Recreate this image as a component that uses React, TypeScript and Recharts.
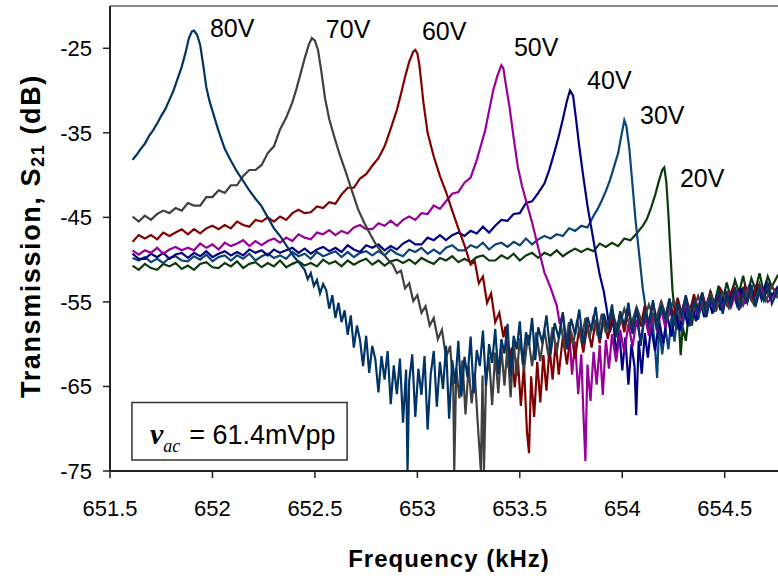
import {
  LineChart,
  Line,
  XAxis,
  YAxis,
  ReferenceDot,
  ReferenceArea,
  ReferenceLine,
  Label,
} from "recharts";

// x ticks (kHz) and y ticks (dB)
const FREQ_TICKS = [651.5, 652, 652.5, 653, 653.5, 654, 654.5];
const DB_TICKS = [-75, -65, -55, -45, -35, -25];

// [frequency kHz, S21 dB]
const s20V: [number, number][] = [
  [651.61, -50.7], [651.64, -51.2], [651.67, -50.5], [651.7, -51.0], [651.73, -51.2], [651.76, -50.5],
  [651.79, -50.8], [651.82, -50.4], [651.85, -51.1], [651.88, -50.7], [651.91, -51.2], [651.94, -50.5],
  [651.97, -50.3], [652.0, -50.9], [652.03, -51.0], [652.06, -50.4], [652.09, -50.8], [652.12, -50.2],
  [652.15, -51.0], [652.18, -50.5], [652.21, -50.3], [652.24, -50.9], [652.27, -50.4], [652.3, -50.8],
  [652.33, -50.1], [652.36, -50.9], [652.39, -50.5], [652.42, -50.2], [652.45, -50.7], [652.48, -50.4],
  [652.51, -50.8], [652.54, -50.0], [652.57, -50.5], [652.6, -50.2], [652.63, -50.8], [652.66, -50.1],
  [652.69, -50.6], [652.72, -50.2], [652.75, -49.9], [652.78, -50.6], [652.81, -50.1], [652.84, -50.7],
  [652.87, -50.2], [652.9, -50.0], [652.93, -50.4], [652.96, -50.0], [652.99, -50.5], [653.02, -49.8],
  [653.05, -50.2], [653.08, -50.5], [653.11, -49.8], [653.14, -50.1], [653.17, -49.6], [653.2, -50.3],
  [653.23, -49.9], [653.26, -50.3], [653.29, -49.7], [653.32, -49.5], [653.35, -50.1], [653.38, -50.1],
  [653.41, -49.5], [653.44, -49.9], [653.47, -49.3], [653.5, -50.1], [653.53, -49.5], [653.56, -49.2],
  [653.59, -49.8], [653.62, -49.2], [653.65, -49.5], [653.68, -48.9], [653.71, -49.6], [653.74, -49.1],
  [653.77, -48.7], [653.8, -49.1], [653.83, -48.7], [653.86, -49.0], [653.89, -48.1], [653.92, -48.5],
  [653.95, -48.0], [653.98, -48.4], [654.01, -47.5], [654.04, -47.7], [654.07, -46.9], [654.1, -46.0],
  [654.12, -45.2], [654.14, -43.9], [654.16, -42.4], [654.18, -40.6], [654.195, -39.4], [654.205, -39.1],
  [654.215, -40.8], [654.225, -44.6], [654.235, -49.2], [654.245, -53.6], [654.255, -55.9], [654.265, -58.3],
  [654.275, -56.7], [654.285, -61.3], [654.295, -58.0], [654.31, -59.6], [654.325, -56.4], [654.34, -57.8],
  [654.355, -55.0], [654.37, -56.9], [654.39, -54.4], [654.41, -56.1], [654.43, -53.8], [654.45, -55.3],
  [654.47, -53.1], [654.49, -54.9], [654.51, -52.7], [654.53, -54.6], [654.55, -52.4], [654.57, -53.9],
  [654.59, -51.9], [654.61, -54.3], [654.63, -52.2], [654.65, -53.5], [654.67, -51.6], [654.69, -53.8],
  [654.71, -52.0], [654.73, -53.2], [654.76, -51.8],
];

const s30V: [number, number][] = [
  [651.61, -49.8], [651.64, -50.1], [651.67, -49.7], [651.7, -50.3], [651.73, -49.9], [651.76, -50.4],
  [651.79, -49.8], [651.82, -49.6], [651.85, -50.1], [651.88, -50.2], [651.91, -49.6], [651.94, -50.0],
  [651.97, -49.4], [652.0, -50.2], [652.03, -49.7], [652.06, -49.5], [652.09, -50.1], [652.12, -49.5],
  [652.15, -49.9], [652.18, -49.3], [652.21, -50.1], [652.24, -49.6], [652.27, -49.3], [652.3, -49.8],
  [652.33, -49.5], [652.36, -49.9], [652.39, -49.1], [652.42, -49.6], [652.45, -49.3], [652.48, -49.9],
  [652.51, -49.1], [652.54, -49.6], [652.57, -49.3], [652.6, -49.0], [652.63, -49.7], [652.66, -49.1],
  [652.69, -49.7], [652.72, -49.2], [652.75, -49.0], [652.78, -49.5], [652.81, -49.0], [652.84, -49.5],
  [652.87, -48.8], [652.9, -49.3], [652.93, -49.6], [652.96, -48.8], [652.99, -49.1], [653.02, -48.6],
  [653.05, -49.3], [653.08, -48.8], [653.11, -49.3], [653.14, -48.6], [653.17, -48.3], [653.2, -48.9],
  [653.23, -48.9], [653.26, -48.3], [653.29, -48.6], [653.32, -48.0], [653.35, -48.8], [653.38, -48.2],
  [653.41, -48.0], [653.44, -48.5], [653.47, -47.9], [653.5, -48.3], [653.53, -47.5], [653.56, -48.2],
  [653.59, -47.6], [653.62, -47.2], [653.65, -47.5], [653.68, -47.0], [653.71, -47.2], [653.74, -46.3],
  [653.77, -46.6], [653.8, -46.0], [653.83, -46.2], [653.86, -44.8], [653.88, -44.0], [653.9, -43.0],
  [653.92, -41.9], [653.94, -40.6], [653.96, -39.0], [653.98, -37.4], [653.995, -35.4], [654.01, -33.5],
  [654.02, -34.2], [654.035, -37.0], [654.05, -41.2], [654.065, -45.4], [654.08, -48.8], [654.1, -53.4],
  [654.115, -55.9], [654.13, -58.7], [654.145, -56.6], [654.16, -60.4], [654.17, -64.0], [654.18, -57.8],
  [654.195, -61.2], [654.21, -58.0], [654.225, -60.6], [654.24, -56.9], [654.255, -59.7], [654.27, -56.3],
  [654.29, -58.5], [654.31, -55.6], [654.33, -57.9], [654.35, -55.2], [654.37, -57.1], [654.39, -54.7],
  [654.41, -56.8], [654.43, -54.4], [654.45, -56.2], [654.47, -54.0], [654.49, -55.9], [654.51, -53.7],
  [654.53, -55.5], [654.55, -53.5], [654.57, -55.2], [654.59, -53.2], [654.61, -55.0], [654.63, -53.0],
  [654.65, -54.8], [654.67, -52.9], [654.69, -54.6], [654.71, -52.8], [654.73, -54.4], [654.76, -53.1],
];

const s40V: [number, number][] = [
  [651.61, -49.3], [651.64, -49.9], [651.67, -49.9], [651.7, -49.3], [651.73, -49.7], [651.76, -49.2],
  [651.79, -49.9], [651.82, -49.4], [651.85, -49.2], [651.88, -49.8], [651.91, -49.2], [651.94, -49.6],
  [651.97, -49.0], [652.0, -49.7], [652.03, -49.3], [652.06, -49.0], [652.09, -49.5], [652.12, -49.1],
  [652.15, -49.5], [652.18, -48.8], [652.21, -49.2], [652.24, -48.9], [652.27, -49.5], [652.3, -48.8],
  [652.33, -49.2], [652.36, -48.9], [652.39, -48.6], [652.42, -49.2], [652.45, -48.7], [652.48, -49.3],
  [652.51, -48.8], [652.54, -48.5], [652.57, -49.0], [652.6, -48.6], [652.63, -49.1], [652.66, -48.3],
  [652.69, -48.8], [652.72, -49.1], [652.75, -48.3], [652.78, -48.6], [652.81, -48.2], [652.84, -48.9],
  [652.87, -48.4], [652.9, -48.8], [652.93, -48.1], [652.96, -47.7], [652.99, -48.2], [653.02, -48.2],
  [653.05, -47.4], [653.08, -47.7], [653.11, -47.1], [653.14, -47.7], [653.17, -47.1], [653.2, -46.8],
  [653.23, -47.2], [653.26, -46.6], [653.29, -46.9], [653.32, -46.1], [653.35, -46.8], [653.38, -46.0],
  [653.41, -45.3], [653.44, -45.4], [653.47, -44.6], [653.5, -44.5], [653.53, -43.3], [653.56, -43.1],
  [653.59, -42.1], [653.62, -41.0], [653.645, -39.3], [653.67, -37.2], [653.69, -35.4], [653.71, -33.4],
  [653.73, -31.2], [653.745, -30.0], [653.76, -30.6], [653.775, -33.5], [653.79, -36.6], [653.81, -40.2],
  [653.83, -43.6], [653.85, -46.4], [653.87, -49.2], [653.89, -51.8], [653.91, -53.8], [653.925, -56.0],
  [653.94, -58.6], [653.955, -56.9], [653.97, -61.3], [653.985, -58.4], [654.0, -63.1], [654.015, -59.2],
  [654.03, -64.8], [654.045, -60.0], [654.06, -62.7], [654.068, -68.4], [654.08, -59.6], [654.095, -63.5],
  [654.11, -58.7], [654.125, -61.6], [654.14, -57.9], [654.16, -60.8], [654.18, -57.2], [654.2, -59.9],
  [654.22, -56.6], [654.24, -59.1], [654.26, -56.1], [654.28, -58.4], [654.3, -55.7], [654.32, -57.8],
  [654.34, -55.2], [654.36, -57.3], [654.38, -54.9], [654.4, -56.8], [654.42, -54.5], [654.44, -56.4],
  [654.46, -54.2], [654.48, -56.0], [654.5, -53.9], [654.52, -55.7], [654.54, -53.7], [654.56, -55.4],
  [654.58, -53.4], [654.6, -55.2], [654.62, -53.2], [654.64, -54.9], [654.66, -53.0], [654.68, -54.7],
  [654.7, -52.9], [654.72, -54.5], [654.76, -53.3],
];

const s50V: [number, number][] = [
  [651.61, -48.9], [651.64, -49.4], [651.67, -48.9], [651.7, -49.2], [651.73, -48.6], [651.76, -49.3],
  [651.79, -48.8], [651.82, -48.5], [651.85, -48.9], [651.88, -48.6], [651.91, -48.9], [651.94, -48.1],
  [651.97, -48.6], [652.0, -48.2], [652.03, -48.8], [652.06, -48.0], [652.09, -48.4], [652.12, -48.1],
  [652.15, -47.7], [652.18, -48.4], [652.21, -47.8], [652.24, -48.3], [652.27, -47.8], [652.3, -47.5],
  [652.33, -48.0], [652.36, -47.4], [652.39, -47.8], [652.42, -47.0], [652.45, -47.4], [652.48, -47.6],
  [652.51, -46.8], [652.54, -47.0], [652.57, -46.5], [652.6, -47.1], [652.63, -46.6], [652.66, -46.9],
  [652.69, -46.2], [652.72, -45.9], [652.75, -46.4], [652.78, -46.4], [652.81, -45.7], [652.84, -46.0],
  [652.87, -45.4], [652.9, -46.0], [652.93, -45.3], [652.96, -44.9], [652.99, -45.3], [653.02, -44.5],
  [653.05, -44.6], [653.08, -43.6], [653.11, -44.0], [653.14, -43.1], [653.17, -42.2], [653.2, -42.0],
  [653.23, -40.9], [653.26, -40.3], [653.29, -38.2], [653.31, -36.5], [653.33, -34.8], [653.35, -32.4],
  [653.37, -30.0], [653.39, -28.3], [653.41, -27.0], [653.42, -27.4], [653.43, -29.0], [653.45, -32.0],
  [653.47, -35.6], [653.49, -39.0], [653.51, -41.2], [653.53, -43.0], [653.56, -45.6], [653.59, -48.6],
  [653.62, -51.5], [653.65, -53.3], [653.68, -55.4], [653.695, -57.6], [653.71, -56.4], [653.725, -60.3],
  [653.74, -58.1], [653.755, -63.6], [653.77, -59.7], [653.785, -65.9], [653.8, -61.2], [653.81, -68.0],
  [653.82, -73.8], [653.83, -62.4], [653.845, -66.7], [653.86, -60.9], [653.875, -64.8], [653.89, -60.1],
  [653.905, -66.0], [653.92, -59.5], [653.935, -62.9], [653.95, -58.8], [653.97, -62.1], [653.99, -58.3],
  [654.01, -61.0], [654.03, -57.6], [654.05, -60.3], [654.07, -57.1], [654.09, -59.6], [654.11, -56.7],
  [654.13, -59.0], [654.15, -56.3], [654.17, -58.5], [654.19, -55.9], [654.21, -58.0], [654.23, -55.5],
  [654.25, -57.6], [654.27, -55.2], [654.29, -57.2], [654.31, -54.9], [654.33, -56.9], [654.35, -54.6],
  [654.37, -56.6], [654.39, -54.4], [654.41, -56.3], [654.43, -54.2], [654.45, -56.1], [654.47, -54.0],
  [654.49, -55.8], [654.51, -53.8], [654.53, -55.6], [654.56, -53.7], [654.59, -55.4], [654.62, -53.5],
  [654.65, -55.2], [654.68, -53.4], [654.71, -55.0], [654.76, -53.8],
];

const s60V: [number, number][] = [
  [651.61, -47.9], [651.64, -47.1], [651.67, -47.5], [651.7, -47.1], [651.73, -47.6], [651.76, -46.8],
  [651.79, -47.2], [651.82, -46.8], [651.85, -46.4], [651.88, -47.0], [651.91, -46.4], [651.94, -46.9],
  [651.97, -46.3], [652.0, -46.0], [652.03, -46.4], [652.06, -45.9], [652.09, -46.3], [652.12, -45.5],
  [652.15, -45.9], [652.18, -46.1], [652.21, -45.3], [652.24, -45.5], [652.27, -45.0], [652.3, -45.5],
  [652.33, -44.9], [652.36, -45.3], [652.39, -44.5], [652.42, -44.1], [652.45, -44.5], [652.48, -44.4],
  [652.51, -43.7], [652.54, -43.9], [652.57, -43.2], [652.6, -43.4], [652.63, -42.3], [652.66, -41.5],
  [652.69, -41.5], [652.72, -40.4], [652.75, -39.9], [652.78, -38.9], [652.81, -38.0], [652.84, -36.6],
  [652.87, -34.5], [652.9, -32.3], [652.92, -30.4], [652.94, -28.4], [652.96, -26.6], [652.98, -25.4],
  [652.99, -25.2], [653.0, -25.6], [653.01, -27.0], [653.03, -31.5], [653.05, -35.0], [653.08, -37.8],
  [653.11, -40.1], [653.14, -42.0], [653.17, -44.2], [653.2, -46.3], [653.23, -48.3], [653.26, -50.6],
  [653.28, -50.2], [653.3, -52.8], [653.32, -52.0], [653.34, -55.1], [653.36, -54.0], [653.38, -57.4],
  [653.4, -56.3], [653.42, -59.2], [653.43, -57.9], [653.445, -62.8], [653.46, -60.4], [653.475, -65.1],
  [653.49, -61.6], [653.505, -67.3], [653.52, -62.5], [653.535, -70.4], [653.545, -72.9], [653.555, -63.8],
  [653.57, -68.6], [653.585, -62.1], [653.6, -66.9], [653.615, -61.3], [653.63, -65.5], [653.645, -60.4],
  [653.66, -64.2], [653.675, -59.8], [653.69, -63.6], [653.71, -59.1], [653.73, -62.4], [653.75, -58.5],
  [653.77, -61.7], [653.79, -58.0], [653.81, -61.0], [653.83, -57.6], [653.85, -60.4], [653.87, -57.2],
  [653.89, -59.9], [653.91, -56.8], [653.93, -59.4], [653.95, -56.5], [653.97, -59.0], [653.99, -56.2],
  [654.01, -58.6], [654.03, -55.9], [654.05, -58.2], [654.07, -55.7], [654.09, -57.9], [654.11, -55.4],
  [654.13, -57.6], [654.15, -55.2], [654.17, -57.3], [654.19, -54.9], [654.21, -57.0], [654.23, -54.7],
  [654.25, -56.7], [654.27, -54.5], [654.29, -56.4], [654.31, -54.3], [654.33, -56.2], [654.35, -54.1],
  [654.37, -55.9], [654.39, -53.9], [654.41, -55.7], [654.43, -53.7], [654.45, -55.5], [654.48, -53.5],
  [654.51, -55.3], [654.54, -53.3], [654.57, -55.0], [654.6, -53.1], [654.63, -54.8], [654.66, -53.0],
  [654.69, -54.6], [654.72, -52.9], [654.76, -54.1],
];

const s70V: [number, number][] = [
  [651.61, -44.9], [651.64, -45.5], [651.67, -44.8], [651.7, -45.3], [651.73, -44.6], [651.76, -44.2],
  [651.79, -44.5], [651.82, -43.9], [651.85, -44.2], [651.88, -43.3], [651.91, -43.6], [651.94, -43.6],
  [651.97, -42.6], [652.0, -42.6], [652.03, -41.8], [652.06, -42.1], [652.09, -41.2], [652.12, -41.2],
  [652.15, -40.1], [652.18, -39.4], [652.21, -39.4], [652.24, -38.8], [652.27, -37.4], [652.3, -36.6],
  [652.33, -34.6], [652.36, -33.2], [652.39, -31.4], [652.41, -29.8], [652.43, -28.0], [652.45, -26.2],
  [652.47, -24.6], [652.485, -23.8], [652.5, -24.1], [652.515, -25.2], [652.53, -27.5], [652.55, -31.0],
  [652.57, -33.4], [652.59, -35.1], [652.62, -37.5], [652.65, -39.6], [652.68, -41.8], [652.71, -44.0],
  [652.74, -45.6], [652.77, -47.0], [652.8, -48.3], [652.83, -49.2], [652.86, -50.1], [652.88, -50.6],
  [652.9, -51.6], [652.92, -51.3], [652.94, -53.4], [652.96, -52.8], [652.98, -54.9], [653.0, -54.2],
  [653.02, -56.3], [653.04, -55.5], [653.06, -57.8], [653.08, -56.9], [653.1, -59.4], [653.12, -58.3],
  [653.14, -61.6], [653.16, -60.2], [653.175, -64.9], [653.18, -75.0], [653.19, -62.8], [653.205, -66.4],
  [653.22, -61.9], [653.235, -68.3], [653.25, -62.6], [653.265, -67.0], [653.28, -63.4], [653.295, -69.5],
  [653.31, -75.0], [653.318, -63.7], [653.325, -75.0], [653.335, -64.4], [653.35, -61.5], [653.365, -67.2],
  [653.38, -61.0], [653.395, -65.8], [653.41, -60.4], [653.425, -64.9], [653.44, -60.1], [653.455, -66.3],
  [653.47, -59.7], [653.485, -63.8], [653.5, -59.3], [653.52, -63.1], [653.54, -58.9], [653.56, -62.6],
  [653.58, -58.6], [653.6, -62.0], [653.62, -58.3], [653.64, -61.4], [653.66, -58.0], [653.68, -61.0],
  [653.7, -57.7], [653.72, -60.5], [653.74, -57.4], [653.76, -60.1], [653.78, -57.1], [653.8, -59.7],
  [653.82, -56.9], [653.84, -59.3], [653.86, -56.6], [653.88, -59.0], [653.9, -56.4], [653.92, -58.7],
  [653.95, -56.1], [653.98, -58.4], [654.01, -55.8], [654.04, -58.0], [654.07, -55.6], [654.1, -57.7],
  [654.13, -55.3], [654.16, -57.4], [654.19, -55.0], [654.22, -57.1], [654.25, -54.8], [654.28, -56.8],
  [654.31, -54.6], [654.34, -56.5], [654.37, -54.3], [654.4, -56.2], [654.43, -54.1], [654.46, -55.9],
  [654.49, -53.9], [654.52, -55.7], [654.55, -53.7], [654.58, -55.5], [654.61, -53.5], [654.64, -55.2],
  [654.67, -53.3], [654.7, -54.9], [654.73, -53.1], [654.76, -54.6],
];

const s80V: [number, number][] = [
  [651.61, -38.2], [651.63, -37.6], [651.65, -36.9], [651.67, -36.3], [651.69, -35.4], [651.71, -34.7],
  [651.73, -33.9], [651.75, -33.0], [651.77, -32.2], [651.79, -31.1], [651.81, -30.0], [651.83, -28.6],
  [651.85, -27.2], [651.87, -25.4], [651.885, -23.8], [651.9, -23.0], [651.91, -22.9], [651.925, -23.4],
  [651.94, -24.6], [651.955, -27.0], [651.97, -29.6], [651.985, -31.2], [652.0, -32.4], [652.03, -34.8],
  [652.06, -36.9], [652.09, -38.3], [652.12, -39.6], [652.15, -40.7], [652.18, -41.8], [652.21, -42.8],
  [652.24, -43.7], [652.27, -45.0], [652.3, -46.3], [652.33, -47.2], [652.36, -48.3], [652.39, -49.4],
  [652.42, -50.3], [652.45, -51.2], [652.465, -52.3], [652.48, -51.6], [652.495, -53.1], [652.51, -52.4],
  [652.525, -54.0], [652.54, -52.9], [652.555, -53.6], [652.57, -55.8], [652.585, -54.2], [652.6, -56.9],
  [652.615, -55.1], [652.63, -57.4], [652.645, -56.0], [652.66, -58.9], [652.675, -56.6], [652.69, -60.4],
  [652.705, -57.8], [652.72, -59.5], [652.735, -62.6], [652.75, -59.0], [652.765, -63.4], [652.78, -60.2],
  [652.795, -61.8], [652.81, -65.7], [652.825, -61.4], [652.84, -64.2], [652.855, -60.8], [652.87, -67.1],
  [652.885, -62.5], [652.9, -65.9], [652.915, -61.7], [652.93, -69.3], [652.945, -63.0], [652.952, -75.0],
  [652.96, -64.4], [652.975, -61.2], [652.99, -68.6], [653.005, -62.9], [653.02, -66.0], [653.035, -61.4],
  [653.05, -70.1], [653.065, -63.6], [653.08, -60.8], [653.095, -67.4], [653.11, -62.1], [653.125, -65.3],
  [653.14, -60.2], [653.155, -68.8], [653.17, -61.9], [653.185, -64.7], [653.2, -59.6], [653.215, -66.2],
  [653.23, -61.5], [653.245, -63.9], [653.26, -59.1], [653.275, -65.8], [653.29, -60.7], [653.305, -62.6],
  [653.32, -58.4], [653.335, -64.9], [653.35, -60.0], [653.365, -62.2], [653.38, -58.2], [653.395, -63.6],
  [653.41, -59.4], [653.425, -61.1], [653.44, -57.6], [653.455, -63.8], [653.47, -59.0], [653.485, -60.6],
  [653.5, -57.3], [653.515, -62.4], [653.53, -58.6], [653.545, -60.1], [653.56, -56.9], [653.575, -61.9],
  [653.59, -58.0], [653.61, -59.9], [653.63, -56.6], [653.65, -61.2], [653.67, -57.5], [653.69, -59.3],
  [653.71, -56.2], [653.73, -60.6], [653.75, -57.0], [653.77, -58.9], [653.79, -55.9], [653.81, -60.0],
  [653.83, -56.8], [653.85, -58.4], [653.87, -55.6], [653.89, -59.5], [653.91, -56.4], [653.93, -58.1],
  [653.95, -55.3], [653.97, -59.2], [653.99, -56.1], [654.01, -57.8], [654.03, -55.1], [654.05, -58.8],
  [654.07, -55.7], [654.09, -60.2], [654.11, -56.3], [654.13, -57.4], [654.15, -54.8], [654.17, -58.3],
  [654.19, -55.5], [654.21, -57.0], [654.23, -54.6], [654.25, -57.9], [654.27, -55.2], [654.29, -56.6],
  [654.31, -54.2], [654.33, -57.3], [654.35, -54.9], [654.37, -56.2], [654.39, -53.9], [654.41, -56.8],
  [654.43, -54.5], [654.45, -55.8], [654.47, -53.6], [654.49, -56.4], [654.51, -54.1], [654.53, -55.4],
  [654.55, -53.3], [654.57, -56.0], [654.59, -53.8], [654.61, -55.1], [654.63, -53.0], [654.65, -55.6],
  [654.67, -53.5], [654.69, -54.8], [654.71, -52.8], [654.73, -55.2], [654.76, -53.6],
];

const SERIES = [
  { name: "20V", data: s20V, color: "#0b3a0b", at: [654.39, -40.3] },
  { name: "30V", data: s30V, color: "#0b4577", at: [654.195, -32.9] },
  { name: "40V", data: s40V, color: "#000080", at: [653.937, -28.8] },
  { name: "50V", data: s50V, color: "#990099", at: [653.58, -24.9] },
  { name: "60V", data: s60V, color: "#800000", at: [653.131, -23.0] },
  { name: "70V", data: s70V, color: "#404040", at: [652.662, -22.75] },
  { name: "80V", data: s80V, color: "#003366", at: [652.096, -22.6] },
];

const FONT = "'Liberation Sans', Arial, sans-serif";
const SERIF = "'Liberation Serif', 'Times New Roman', serif";

const toPoints = (arr: [number, number][]) => arr.map(([f, db]) => ({ f, db }));

function VacText(props: any) {
  const { x, y } = props.viewBox;
  return (
    <text x={x + 18} y={y + 41} fontFamily={FONT} fontSize={27} fill="#000">
      <tspan fontFamily={SERIF} fontStyle="italic" fontWeight="bold" fontSize={30}>
        v
      </tspan>
      <tspan fontFamily={SERIF} fontStyle="italic" fontSize={18} dy={8}>
        ac
      </tspan>
      <tspan dy={-8} dx={9}>= 61.4mVpp</tspan>
    </text>
  );
}

export default function App() {
  return (
    <div style={{ position: "absolute", left: 0, top: 0, background: "#fff" }}>
      <LineChart width={778} height={578} margin={{ top: 6, right: 0, bottom: 47, left: 0 }}>
        <XAxis
          type="number"
          dataKey="f"
          domain={[651.5, 654.76]}
          allowDataOverflow
          ticks={FREQ_TICKS}
          height={60}
          tick={{ fontSize: 22, fontFamily: FONT, fill: "#000" }}
          tickSize={7}
          tickMargin={22}
          axisLine={{ stroke: "#222", strokeWidth: 2 }}
          tickLine={{ stroke: "#222", strokeWidth: 1.5 }}
        >
          <Label
            content={() => (
              <text
                x={449}
                y={567}
                textAnchor="middle"
                fontFamily={FONT}
                fontSize={24}
                fontWeight="bold"
                letterSpacing={1}
                fill="#000"
              >
                Frequency (kHz)
              </text>
            )}
          />
        </XAxis>
        <YAxis
          type="number"
          domain={[-75, -20]}
          allowDataOverflow
          ticks={DB_TICKS}
          width={110}
          tick={{ fontSize: 22, fontFamily: FONT, fill: "#000" }}
          tickSize={7}
          tickMargin={11}
          axisLine={{ stroke: "#222", strokeWidth: 2 }}
          tickLine={{ stroke: "#222", strokeWidth: 1.5 }}
        >
          <Label
            content={() => (
              <text
                x={40}
                y={236}
                transform="rotate(-90 40 236)"
                textAnchor="middle"
                fontFamily={FONT}
                fontSize={27}
                fontWeight="bold"
                letterSpacing={1.6}
                fill="#000"
              >
                <tspan>Transmission, S</tspan>
                <tspan fontSize={18} dy={4}>21</tspan>
                <tspan dy={-4}> (dB)</tspan>
              </text>
            )}
          />
        </YAxis>
        <ReferenceLine y={-20} stroke="#8a8a8a" strokeWidth={2} />
        {SERIES.map((s) => (
          <Line
            key={s.name}
            data={toPoints(s.data)}
            dataKey="db"
            type="linear"
            stroke={s.color}
            strokeWidth={2.2}
            dot={false}
            activeDot={false}
            isAnimationActive={false}
          />
        ))}
        {SERIES.map((s) => (
          <ReferenceDot
            key={`lbl-${s.name}`}
            x={s.at[0]}
            y={s.at[1]}
            r={1}
            fill="none"
            stroke="none"
            label={{ value: s.name, position: "center", fontSize: 25, fontFamily: FONT, fill: "#000" }}
          />
        ))}
        <ReferenceArea
          x1={651.607}
          x2={652.657}
          y1={-73.7}
          y2={-66.9}
          fill="#fff"
          fillOpacity={1}
          stroke="#333"
          strokeWidth={1.5}
          label={<VacText />}
        />
      </LineChart>
    </div>
  );
}
